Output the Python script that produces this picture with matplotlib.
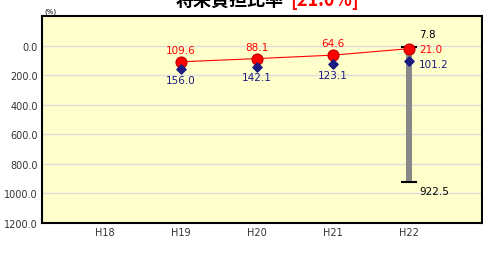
import matplotlib.pyplot as plt

years = ['H18', 'H19', 'H20', 'H21', 'H22']
ratio_x = [1, 2, 3, 4]
ratio = [109.6, 88.1, 64.6, 21.0]
avg = [156.0, 142.1, 123.1, 101.2]
range_min = 7.8
range_max = 922.5

plt.rcParams['font.family'] = ['DejaVu Sans']

fig = plt.figure(figsize=(4.83, 2.55), dpi=100)
ax = fig.add_axes([42 / 483, 31 / 255, 440 / 483, 207 / 255])
ax.set_facecolor('#ffffcc')

# range bar for H22
ax.bar(4, range_max - range_min, bottom=range_min, width=0.08, color='#888888', zorder=2)
ax.plot([3.91, 4.09], [range_min, range_min], color='black', lw=1.5, zorder=3)
ax.plot([3.91, 4.09], [range_max, range_max], color='black', lw=1.5, zorder=3)

ax.plot(ratio_x, ratio, color='red', lw=0.8, zorder=4)
ax.scatter(ratio_x, ratio, s=60, color='red', edgecolors='#cc0000', zorder=5)
ax.scatter(ratio_x, avg, s=22, marker='D', color='#1a1a80', zorder=5)

for x, r, a in zip(ratio_x[:3], ratio[:3], avg[:3]):
    ax.text(x, r - 45, f'{r:.1f}', color='red', fontsize=7.5, ha='center', va='bottom')
    ax.text(x, a + 40, f'{a:.1f}', color='#1a1a80', fontsize=7.5, ha='center', va='top')
ax.text(4.13, ratio[3], f'{ratio[3]:.1f}', color='red', fontsize=7.5, ha='left', va='center')
ax.text(4.13, avg[3] + 25, f'{avg[3]:.1f}', color='#1a1a80', fontsize=7.5, ha='left', va='center')
ax.text(4.13, range_min - 85, f'{range_min:.1f}', color='black', fontsize=7.5, ha='left', va='center')
ax.text(4.13, range_max + 60, f'{range_max:.1f}', color='black', fontsize=7.5, ha='left', va='center')

ax.set_xlim(-0.83, 4.96)
ax.set_ylim(1200, -200)
ax.set_yticks(range(0, 1201, 200))
ax.set_yticklabels([f'{v:.1f}' for v in range(0, 1201, 200)], fontsize=7, color='#333333')
ax.set_xticks(range(len(years)))
ax.set_xticklabels(years, fontsize=7, color='#333333')
ax.tick_params(length=0, pad=3)
ax.grid(axis='y', color='#dddddd', lw=1)
ax.set_axisbelow(True)
for s in ax.spines.values():
    s.set_linewidth(1.5)
    s.set_color('black')

fig.text(50 / 483, 1 - 12 / 255, '(%)', fontsize=5, ha='center', va='center')
fig.text(284 / 483, 1.0, '将来負担比率', fontsize=13, fontweight='bold', ha='right', va='center',
         family=['Noto Sans CJK JP', 'DejaVu Sans'])
fig.text(290 / 483, 1.0, '[21.0%]', fontsize=13, fontweight='bold', color='red', ha='left', va='center',
         family=['Noto Sans CJK JP', 'DejaVu Sans'])

fig.savefig('out.png', dpi=100)
